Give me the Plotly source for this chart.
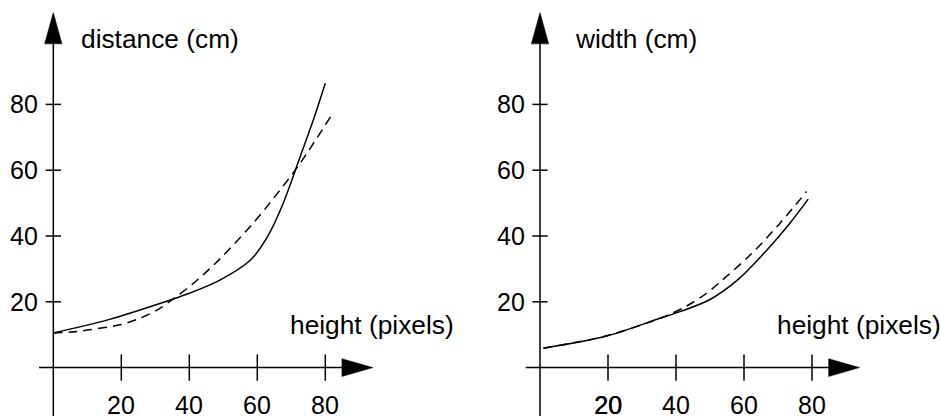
import plotly.graph_objects as go

# ---- data ----
left_solid_x = [0, 16, 32, 40, 49, 58, 63, 67.6, 72.6, 76.5, 80]
left_solid_y = [10.5, 14.5, 19.7, 22.6, 26.6, 32.7, 39.8, 49.9, 64.1, 75.3, 86.4]
left_dash_x = [0, 5, 10, 20, 25.5, 31, 35.3, 41.2, 47.1, 50, 58.8, 66.7, 72.6, 81.9]
left_dash_y = [10.5, 10.8, 11.4, 13.1, 15.0, 17.8, 20.9, 25.6, 31.1, 34.1, 43.9, 54, 62.1, 76.8]

right_solid_x = [1, 19.6, 35.3, 41.2, 50, 58.3, 66.7, 73.5, 78.9]
right_solid_y = [5.9, 9.6, 15, 17, 20.7, 26.8, 35.7, 43.9, 51.2]
right_dash_x = [1, 19.6, 36.3, 43.1, 49, 53.4, 61.8, 70.6, 78.4]
right_dash_y = [5.9, 9.7, 15.4, 18.7, 22.6, 26.4, 34.2, 43.9, 53.5]

x_ticks = [20, 40, 60, 80]
y_ticks = [20, 40, 60, 80]
left_x_ticktext = ["20", "40", "60", "80"]
right_x_ticktext = ["20", "40", "60", "80"]
right_x_heavy = [True, False, False, False]
y_ticktext = ["20", "40", "60", "80"]

left_ylabel = "distance (cm)"
right_ylabel = "width (cm)"
xlabel = "height (pixels)"

FONT = "Liberation Sans, Arial, sans-serif"
FS = 25
FS_LABEL = 26.3
LW = 1.5

fig = go.Figure()

def add_curves(xs, ys, xa, ya, dash):
    fig.add_trace(go.Scatter(x=xs, y=ys, mode="lines", xaxis=xa, yaxis=ya,
                             line=dict(color="black", width=LW, shape="spline",
                                       smoothing=0.9, dash=dash),
                             showlegend=False, hoverinfo="skip"))

add_curves(left_solid_x, left_solid_y, "x", "y", "solid")
add_curves(left_dash_x, left_dash_y, "x", "y", "9px,6px")
add_curves(right_solid_x, right_solid_y, "x2", "y2", "solid")
add_curves(right_dash_x, right_dash_y, "x2", "y2", "9px,6px")

shapes = []
annotations = []

def panel(xr, yr, xticktext, heavy, ylabel, ylabel_x):
    # y axis line
    shapes.append(dict(type="line", xref=xr, yref=yr, x0=0, x1=0, y0=-20, y1=99,
                       line=dict(color="black", width=LW)))
    # y arrow
    shapes.append(dict(type="path", xref=xr, yref=yr,
                       path="M -2.55,98.4 L 2.55,98.4 L 0,107.9 Z",
                       fillcolor="black", line=dict(color="black", width=0.5)))
    # x axis line
    shapes.append(dict(type="line", xref=xr, yref=yr, x0=-4.2, x1=85.5, y0=0, y1=0,
                       line=dict(color="black", width=LW)))
    # x arrow
    shapes.append(dict(type="path", xref=xr, yref=yr,
                       path="M 84.9,2.7 L 84.9,-2.7 L 94,0 Z",
                       fillcolor="black", line=dict(color="black", width=0.5)))
    for v, t, h in zip(x_ticks, xticktext, heavy):
        shapes.append(dict(type="line", xref=xr, yref=yr, x0=v, x1=v, y0=-4.0, y1=4.0,
                           line=dict(color="black", width=LW)))
        f = dict(family=FONT, size=FS, color="black")
        if h:
            f["shadow"] = "0.6px 0px 0px black"
        annotations.append(dict(xref=xr, yref=yr, x=v, y=0, text=t, showarrow=False,
                                yshift=-37, xanchor="center", yanchor="middle",
                                font=f))
    for v, t in zip(y_ticks, y_ticktext):
        shapes.append(dict(type="line", xref=xr, yref=yr, x0=-2.25, x1=2.25, y0=v, y1=v,
                           line=dict(color="black", width=LW)))
        annotations.append(dict(xref=xr, yref=yr, x=0, y=v, text=t, showarrow=False,
                                xshift=-13, xanchor="right", yanchor="middle",
                                font=dict(family=FONT, size=FS, color="black")))
    annotations.append(dict(xref=xr, yref=yr, x=ylabel_x, y=99.9, text=ylabel,
                            showarrow=False, xanchor="left", yanchor="middle",
                            font=dict(family=FONT, size=FS_LABEL, color="black")))
    annotations.append(dict(xref=xr, yref=yr, x=69.0, y=13.1, text=xlabel,
                            showarrow=False, xanchor="left", yanchor="middle",
                            font=dict(family=FONT, size=FS_LABEL, color="black")))

panel("x", "y", left_x_ticktext, [False] * 4, left_ylabel, 7.6)
panel("x2", "y2", right_x_ticktext, right_x_heavy, right_ylabel, 9.8)

ax = dict(visible=False, showgrid=False, zeroline=False, fixedrange=True)
fig.update_layout(
    width=940, height=416,
    margin=dict(l=0, r=0, t=0, b=0),
    paper_bgcolor="white", plot_bgcolor="white",
    xaxis=dict(domain=[0, 0.5], range=[-15.68, 122.56], anchor="y", **ax),
    yaxis=dict(domain=[0, 1], range=[-14.71, 111.73], anchor="x", **ax),
    xaxis2=dict(domain=[0.5, 1], range=[-20.59, 117.65], anchor="y2", **ax),
    yaxis2=dict(domain=[0, 1], range=[-14.71, 111.73], anchor="x2", **ax),
    shapes=shapes, annotations=annotations,
    showlegend=False,
)

fig.write_html("out.html", config={"displayModeBar": False},
               post_script="document.body.style.margin='0';document.body.style.padding='0';document.body.style.overflow='hidden';")
